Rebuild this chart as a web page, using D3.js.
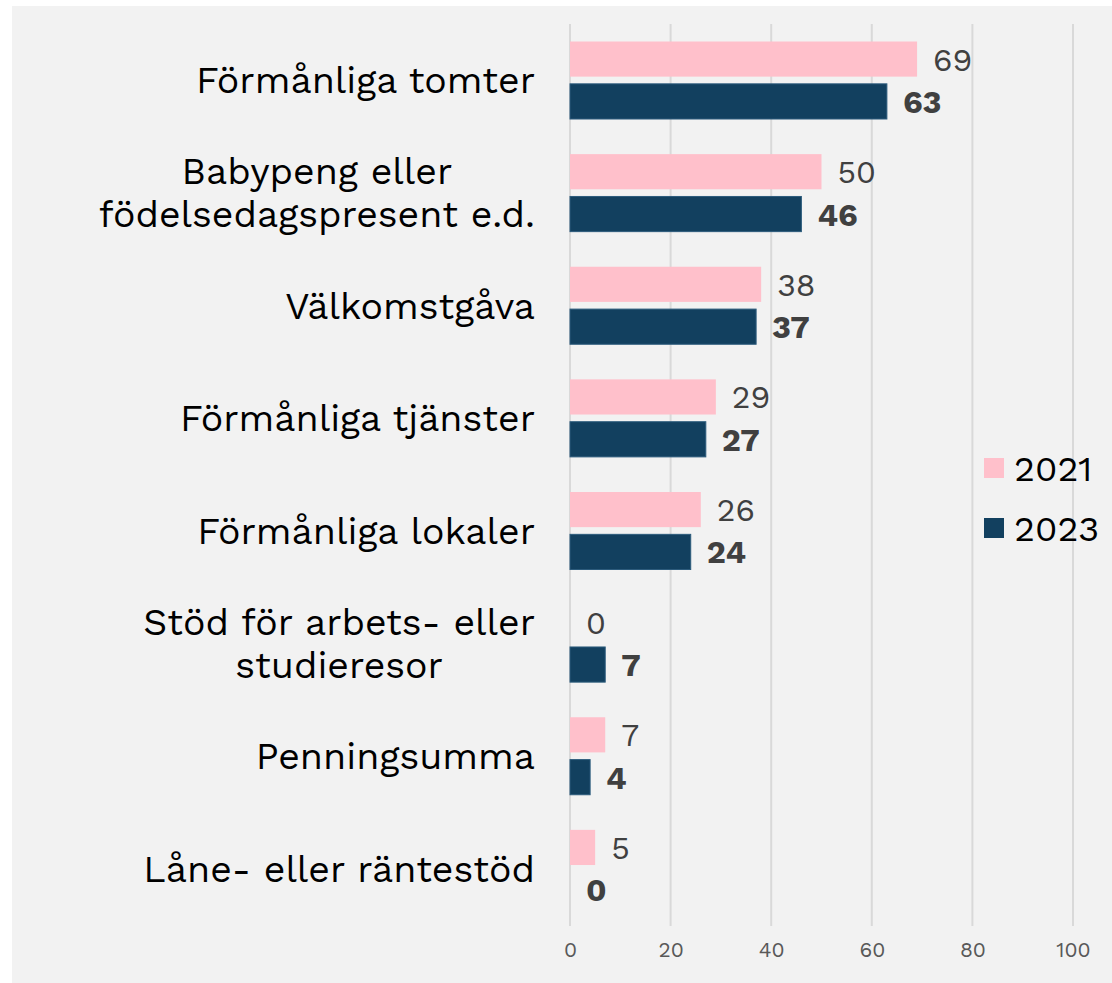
<!DOCTYPE html>
<html>
<head>
<meta charset="utf-8">
<script src="https://cdn.jsdelivr.net/npm/d3@7"></script>
<style>
  body { margin: 0; background: #fff; }
  svg { display: block; }
</style>
</head>
<body>
<div id="chart"></div>
<script>
// categories (top to bottom), two-line labels split with \n
var categories = [
  "Förmånliga tomter",
  "Babypeng eller\nfödelsedagspresent e.d.",
  "Välkomstgåva",
  "Förmånliga tjänster",
  "Förmånliga lokaler",
  "Stöd för arbets- eller\nstudieresor",
  "Penningsumma",
  "Låne- eller räntestöd"
];
var years = ["2021", "2023"];
var values2021 = [69, 50, 38, 29, 26, 0, 7, 5];
var values2023 = [63, 46, 37, 27, 24, 7, 4, 0];
var xTicks = [0, 20, 40, 60, 80, 100];

var W = 1112, H = 983;
var font = "'Work Sans', 'Open Sans', sans-serif";
var colors = { "2021": "#ffc0cb", "2023": "#12405f" };

var svg = d3.select("#chart").append("svg").attr("width", W).attr("height", H);

// panel background
svg.append("rect").attr("x", 12).attr("y", 6).attr("width", W - 12).attr("height", H - 6).attr("fill", "#f2f2f2");

var x = d3.scaleLinear().domain([0, 100]).range([570, 1073]);
var y = d3.scaleBand().domain(categories).range([24, 925]);
var yInner = d3.scaleBand().domain(years).range([17.5, 95]).paddingInner(0.17);

// vertical gridlines
svg.append("g").selectAll("line").data(xTicks).enter().append("line")
  .attr("x1", function(d) { return x(d); }).attr("x2", function(d) { return x(d); })
  .attr("y1", 24).attr("y2", 926)
  .attr("stroke", "#d9d9d9").attr("stroke-width", 2);

// x axis tick labels
var xAxis = d3.axisBottom(x).tickValues(xTicks).tickSize(0).tickPadding(0);
var ax = svg.append("g").attr("transform", "translate(0,948)").call(xAxis);
ax.select(".domain").remove();
ax.selectAll("text").attr("font-family", font).attr("font-size", 21).attr("fill", "#595959").attr("dy", "0.45em");

// rows
var rows = categories.map(function(c, i) {
  return { cat: c, v: { "2021": values2021[i], "2023": values2023[i] } };
});

var g = svg.append("g").selectAll("g.row").data(rows).enter().append("g")
  .attr("class", "row")
  .attr("transform", function(d) { return "translate(0," + y(d.cat) + ")"; });

years.forEach(function(yr) {
  g.append("rect")
    .attr("x", x(0))
    .attr("y", yInner(yr))
    .attr("width", function(d) { return x(d.v[yr]) - x(0); })
    .attr("height", yInner.bandwidth())
    .attr("fill", colors[yr])
    .attr("stroke", yr == "2023" ? "#2c5b7c" : "none")
    .attr("stroke-width", 1)
    .style("display", function(d) { return d.v[yr] > 0 ? null : "none"; });

  g.append("text")
    .attr("x", function(d) { return x(d.v[yr]) + 16; })
    .attr("y", yInner(yr) + yInner.bandwidth() / 2)
    .attr("dy", "0.36em")
    .attr("font-family", font)
    .attr("font-size", 32)
    .attr("font-weight", yr == "2023" ? "bold" : "normal")
    .attr("fill", "#404040")
    .text(function(d) { return d.v[yr]; });
});

// category labels: lines centred on each other, block right-aligned at 535
g.each(function(d) {
  var lines = d.cat.split("\n");
  var t = d3.select(this).append("text")
    .attr("text-anchor", "middle")
    .attr("font-family", font)
    .attr("font-size", 37.5)
    .attr("fill", "#000");
  var lh = 43;
  var y0 = y.bandwidth() / 2 + 13 - (lines.length - 1) * lh / 2;
  var spans = lines.map(function(l, k) {
    return t.append("tspan").attr("x", 0).attr("y", y0 + k * lh).text(l);
  });
  var maxW = d3.max(spans, function(s) { return s.node().getComputedTextLength(); });
  spans.forEach(function(s) { s.attr("x", 535 - maxW / 2); });
});

// legend
var leg = svg.append("g").selectAll("g").data(years).enter().append("g")
  .attr("transform", function(d, i) { return "translate(984," + (458 + i * 60) + ")"; });
leg.append("rect").attr("width", 20).attr("height", 20).attr("fill", function(d) { return colors[d]; });
leg.append("text").attr("x", 30).attr("y", 10).attr("dy", "0.36em")
  .attr("font-family", font).attr("font-size", 36).attr("fill", "#000")
  .text(function(d) { return d; });
</script>
</body>
</html>
